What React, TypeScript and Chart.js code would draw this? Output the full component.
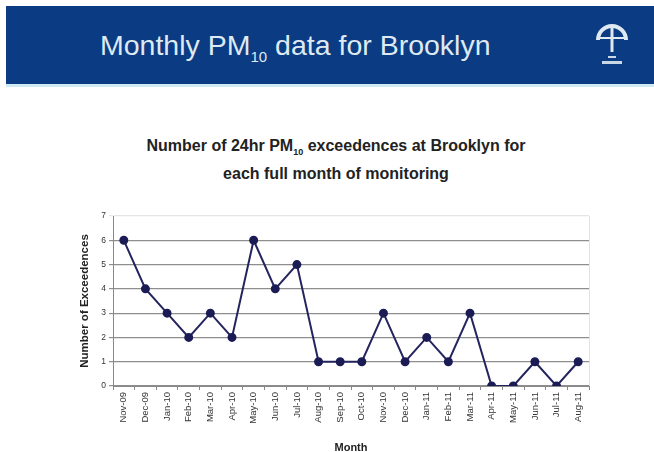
import React, { useEffect, useRef } from "react";
import { Chart, registerables } from "chart.js";

Chart.register(...registerables);

const months = [
  "Nov-09", "Dec-09", "Jan-10", "Feb-10", "Mar-10", "Apr-10", "May-10", "Jun-10",
  "Jul-10", "Aug-10", "Sep-10", "Oct-10", "Nov-10", "Dec-10", "Jan-11", "Feb-11",
  "Mar-11", "Apr-11", "May-11", "Jun-11", "Jul-11", "Aug-11",
];
const exceedences = [6, 4, 3, 2, 3, 2, 6, 4, 5, 1, 1, 1, 3, 1, 2, 1, 3, 0, 0, 1, 0, 1];
const yTicks = [0, 1, 2, 3, 4, 5, 6, 7];

const FONT = "'Liberation Sans', Arial, sans-serif";

export default function App() {
  const ref = useRef<HTMLCanvasElement | null>(null);

  useEffect(() => {
    document.body.style.margin = "0";
    const ctx = ref.current!.getContext("2d")!;
    const chart = new Chart(ctx, {
      type: "line",
      data: {
        labels: months,
        datasets: [
          {
            data: exceedences,
            borderColor: "#24245e",
            backgroundColor: "#1b1b55",
            borderWidth: 2,
            pointRadius: 3.5,
            pointBackgroundColor: "#1b1b55",
            pointBorderColor: "#1b1b55",
            tension: 0,
          },
        ],
      },
      options: {
        animation: false,
        responsive: false,
        maintainAspectRatio: false,
        layout: { padding: { top: 16, right: 65, left: 78, bottom: -3 } },
        plugins: { legend: { display: false }, title: { display: false }, tooltip: { enabled: false } },
        scales: {
          x: {
            type: "category",
            offset: true,
            grid: {
              display: true,
              drawOnChartArea: false,
              drawTicks: true,
              tickLength: 4,
              color: "#888",
              offset: true,
            },
            border: { display: true, color: "#888", width: 1 },
            ticks: {
              autoSkip: false,
              maxRotation: 90,
              minRotation: 90,
              color: "#333",
              font: { family: FONT, size: 9.5 },
              padding: 2,
            },
            title: {
              display: true,
              text: "Month",
              color: "#222",
              font: { family: FONT, size: 11, weight: "bold" },
              padding: { top: 10, bottom: 0 },
            },
            afterFit: (s: any) => {
              s.height = 69;
            },
          },
          y: {
            min: 0,
            max: 7,
            afterBuildTicks: (s: any) => {
              s.ticks = yTicks.map((v) => ({ value: v }));
            },
            grid: {
              color: (c: any) => (c.tick && c.tick.value === 7 ? "#e4e4e4" : "#8e8e8e"),
              lineWidth: 1.2,
              drawTicks: true,
              tickLength: 4,
            },
            border: { display: true, color: "#888", width: 1 },
            ticks: {
              color: "#333",
              font: { family: FONT, size: 8.5 },
              padding: 3,
            },
            title: {
              display: true,
              text: "Number of Exceedences",
              color: "#222",
              font: { family: FONT, size: 11.5, weight: "bold" },
              padding: { top: 0, bottom: 4 },
            },
            afterFit: (s: any) => {
              s.width = 35;
            },
          },
        },
      },
      plugins: [
        {
          id: "faintBorder",
          afterDraw: (c: any) => {
            const a = c.chartArea;
            const g = c.ctx;
            g.save();
            g.strokeStyle = "#e2e2e2";
            g.lineWidth = 1;
            g.beginPath();
            g.moveTo(a.right + 0.5, a.top);
            g.lineTo(a.right + 0.5, a.bottom);
            g.stroke();
            g.restore();
          },
        },
      ],
    } as any);
    return () => chart.destroy();
  }, []);

  return (
    <div style={{ position: "fixed", left: 0, top: 0, width: 654, height: 452, background: "#fff", overflow: "hidden" }}>
      <div
        style={{
          position: "absolute",
          left: 6,
          top: 6,
          width: 648,
          height: 78,
          background: "#0b3b82",
        }}
      />
      <div style={{ position: "absolute", left: 6, top: 84, width: 648, height: 3, background: "#cfeaf2" }} />
      <div
        style={{
          position: "absolute",
          left: 100,
          top: 27,
          fontFamily: FONT,
          fontSize: 28.5,
          color: "#dfe9f2",
          whiteSpace: "nowrap",
          lineHeight: "36px",
        }}
      >
        Monthly PM<span style={{ fontSize: 15, position: "relative", top: 7 }}>10</span> data for Brooklyn
      </div>
      <svg style={{ position: "absolute", left: 590, top: 18 }} width="44" height="50" viewBox="0 0 44 50">
        <path d="M8 22 A14 14 0 0 1 36 22" fill="none" stroke="#dfe9f2" strokeWidth="4" />
        <line x1="22" y1="8" x2="22" y2="34" stroke="#dfe9f2" strokeWidth="3" />
        <line x1="8" y1="20" x2="36" y2="20" stroke="#dfe9f2" strokeWidth="2" />
        <rect x="18" y="38" width="8" height="2" fill="#c9d6e4" />
        <rect x="12" y="43" width="20" height="3" fill="#c9d6e4" />
      </svg>
      <div
        style={{
          position: "absolute",
          left: 0,
          width: 672,
          top: 133,
          textAlign: "center",
          fontFamily: FONT,
          fontWeight: "bold",
          fontSize: 16,
          color: "#222",
          lineHeight: "25px",
          whiteSpace: "nowrap",
        }}
      >
        <div>
          Number of 24hr PM<span style={{ fontSize: 9, position: "relative", top: 4 }}>10</span> exceedences at Brooklyn for
        </div>
        <div>each full month of monitoring</div>
      </div>
      <canvas
        ref={ref}
        width={654}
        height={252}
        style={{ position: "absolute", left: 0, top: 200, width: 654, height: 252 }}
      />
    </div>
  );
}
